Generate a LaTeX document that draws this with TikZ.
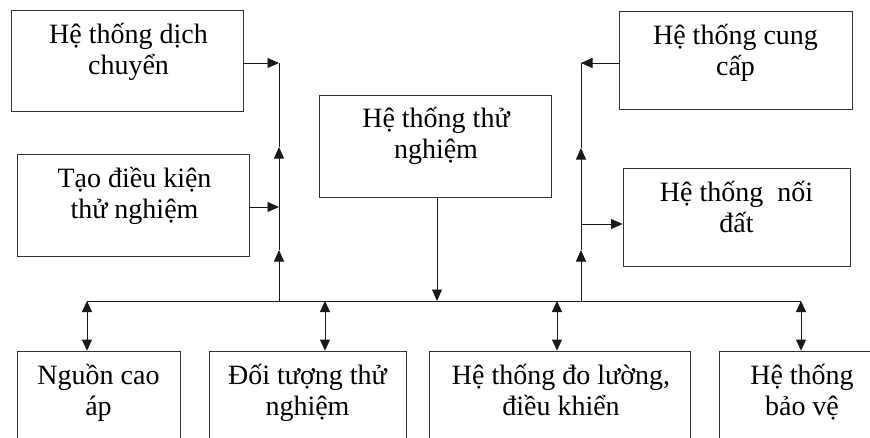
\documentclass[tikz,border=0pt]{standalone}
\usepackage{fontspec}
\setmainfont{Liberation Serif}
\usetikzlibrary{arrows.meta,calc}
\begin{document}
\begin{tikzpicture}[x=1pt,y=-1pt,
  blk/.style={draw=black!80, line width=0.8pt, inner sep=0pt},
  lbl/.style={anchor=base, inner sep=0pt, font=\fontsize{28}{31}\selectfont},
  link/.style={draw=black!90, line width=0.9pt},
  tip/.style={-{Triangle[length=11.5pt,width=10pt]}},
  dbl/.style={{Triangle[length=11pt,width=10pt]}-{Triangle[length=11pt,width=10pt]}}
]
\useasboundingbox (0,0) rectangle (870,437);
\clip (0,0) rectangle (870,437);

% upper blocks
\node[blk, minimum width=232, minimum height=101] (dich)    at (127,60.5)  {};
\node[blk, minimum width=232, minimum height=102] (taodk)   at (133,205)   {};
\node[blk, minimum width=232, minimum height=102] (test)    at (435,146)   {};
\node[blk, minimum width=233, minimum height=98]  (cungcap) at (735.5,60)  {};
\node[blk, minimum width=227, minimum height=98]  (noidat)  at (736.5,217) {};

% lower blocks (they run off the lower edge)
\node[blk, minimum width=163, minimum height=109] (nguon)    at (98.5,405.5)  {};
\node[blk, minimum width=197, minimum height=109] (doituong) at (307.5,405.5) {};
\node[blk, minimum width=261, minimum height=109] (dolong)   at (559.5,405.5) {};
\node[blk, minimum width=166, minimum height=109] (baove)    at (802,405.5)   {};

% labels
\node[lbl] (dich-t)    at ($(dich.north)+(1.5,34)$)    {\begin{tabular}[t]{@{}c@{}}Hệ thống dịch\\chuyển\end{tabular}};
\node[lbl] (taodk-t)   at ($(taodk.north)+(1.5,34)$)   {\begin{tabular}[t]{@{}c@{}}Tạo điều kiện\\thử nghiệm\end{tabular}};
\node[lbl] (test-t)    at ($(test.north)+(1,33)$)      {\begin{tabular}[t]{@{}c@{}}Hệ thống thử\\nghiệm\end{tabular}};
\node[lbl] (cungcap-t) at ($(cungcap.north)+(0,34)$)   {\begin{tabular}[t]{@{}c@{}}Hệ thống cung\\cấp\end{tabular}};
\node[lbl] (noidat-t)  at ($(noidat.north)+(0,34)$)    {\begin{tabular}[t]{@{}c@{}}Hệ thống\ \ nối\\đất\end{tabular}};
\node[lbl] (nguon-t)    at ($(nguon.north)+(0,34)$)    {\begin{tabular}[t]{@{}c@{}}Nguồn cao\\áp\end{tabular}};
\node[lbl] (doituong-t) at ($(doituong.north)+(0,34)$) {\begin{tabular}[t]{@{}c@{}}Đối tượng thử\\nghiệm\end{tabular}};
\node[lbl] (dolong-t)   at ($(dolong.north)+(1.5,34)$) {\begin{tabular}[t]{@{}c@{}}Hệ thống đo lường,\\điều khiển\end{tabular}};
\node[lbl] (baove-t)    at ($(baove.north)+(0,34)$)    {\begin{tabular}[t]{@{}c@{}}Hệ thống\\bảo vệ\end{tabular}};

% junction points
\coordinate (busL) at (87,301);
\coordinate (busR) at (801,301);
\coordinate (LB) at (279,301);
\coordinate (L1) at (279,250);
\coordinate (LM) at (279,207);
\coordinate (L2) at (279,147);
\coordinate (LT) at (279,63);
\coordinate (RB) at (581,301);
\coordinate (R1) at (581,250);
\coordinate (RM) at (581,224);
\coordinate (R2) at (581,148);
\coordinate (RT) at (581,63);
\coordinate (b1) at (87,301);
\coordinate (b2) at (325,301);
\coordinate (b3) at (557,301);
\coordinate (b4) at (801,301);
\coordinate (tc) at (437,301);

% bus
\draw[link] (busL) -- (busR);

% left riser
\draw[link,tip] (LB) -- (L1);
\draw[link,tip] (L1) -- (L2);
\draw[link] (L2) -- (LT);
\draw[link,tip] (dich.east |- LT) -- (LT);
\draw[link,tip] (taodk.east |- LM) -- (LM);

% right riser
\draw[link,tip] (RB) -- (R1);
\draw[link,tip] (R1) -- (R2);
\draw[link] (R2) -- (RT);
\draw[link,tip] (cungcap.west |- RT) -- (RT);
\draw[link,tip] (RM) -- (noidat.west |- RM);

% test system down to the bus
\draw[link,tip] (tc |- test.south) -- (tc);

% bus to lower blocks
\draw[link,dbl] (b1) -- (b1 |- nguon.north);
\draw[link,dbl] (b2) -- (b2 |- doituong.north);
\draw[link,dbl] (b3) -- (b3 |- dolong.north);
\draw[link,dbl] (b4) -- (b4 |- baove.north);
\end{tikzpicture}
\end{document}
